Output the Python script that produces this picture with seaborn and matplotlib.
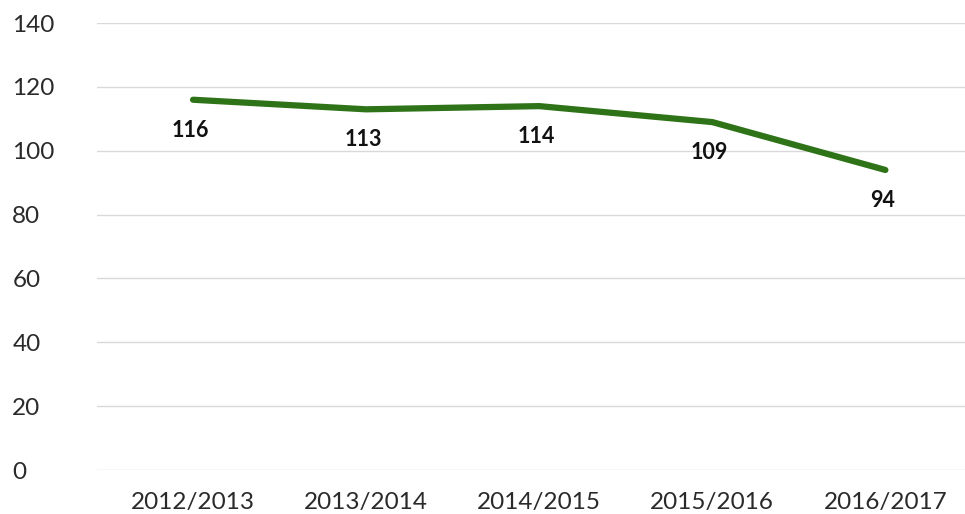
import matplotlib
matplotlib.use("Agg")
import matplotlib.pyplot as plt
import seaborn as sns
import pandas as pd

categories = ["2012/2013", "2013/2014", "2014/2015", "2015/2016", "2016/2017"]
values = [116, 113, 114, 109, 94]
yticks = [0, 20, 40, 60, 80, 100, 120, 140]

sns.set_theme(style="white")
plt.rcParams['font.family'] = ['Lato', 'DejaVu Sans']

df = pd.DataFrame({"x": range(len(categories)), "y": values})

fig = plt.figure(figsize=(9.65, 5.14), dpi=100)
ax = fig.add_axes([0.1005, 0.0856, 0.8995, 0.8694])
sns.lineplot(data=df, x="x", y="y", ax=ax, color="#2e7317", linewidth=4.5,
             solid_capstyle="round")

for i, v in enumerate(values):
    ax.annotate(str(v), (i, v), xytext=(-2, -22), textcoords="offset points",
                ha="center", va="center", fontsize=15.5, fontweight="bold", color="#111111")

ax.set_ylim(0, 140)
ax.set_xlim(-0.555, 4.46)
ax.set_yticks(yticks)
ax.set_xticks(range(len(categories)))
ax.set_xticklabels(categories)
ax.grid(axis="y", color="#d9d9d9", linewidth=1)
ax.set_axisbelow(True)
for s in ax.spines.values():
    s.set_visible(False)
ax.tick_params(axis="both", length=0, labelsize=17.5, labelcolor="#2a2a2a")
ax.tick_params(axis="x", pad=16)
ax.tick_params(axis="y", pad=61)
for t in ax.get_yticklabels():
    t.set_horizontalalignment("left")
ax.set_xlabel("")
ax.set_ylabel("")

fig.savefig("out.png", dpi=100)
